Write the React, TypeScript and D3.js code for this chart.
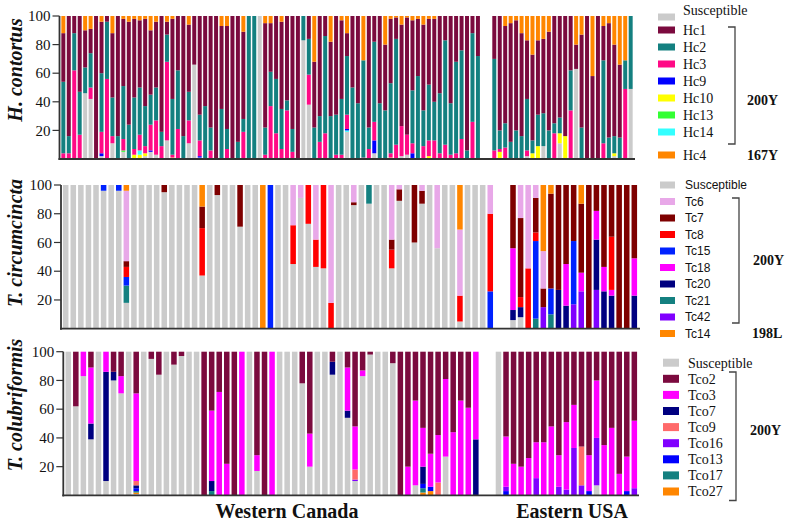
import React from "react";
import * as d3 from "d3";

type Row = Record<string, number>;

const SERIF = "'Liberation Serif', 'Times New Roman', serif";
const SANS = "'Liberation Sans', Arial, sans-serif";

const yTicks = [20, 40, 60, 80, 100];
const regions = ["Western Canada", "Eastern USA"];

// ---- H. contortus (isotype-1 beta-tubulin haplotypes) ----
const hcKeys = ["S", "Hc10", "Hc14", "Hc13", "Hc9", "Hc3", "Hc2", "Hc1", "Hc4"];
const hcLegend = ["S", "Hc1", "Hc2", "Hc3", "Hc9", "Hc10", "Hc13", "Hc14", "Hc4"];
const hcColors: Record<string, string> = {
  S: "#cbcbcb", Hc1: "#7b0a3e", Hc2: "#148080", Hc3: "#ff0a86", Hc9: "#0000ff",
  Hc10: "#ffff00", Hc13: "#33ff33", Hc14: "#33ffff", Hc4: "#ff8600",
};
const hcWest: Row[] = [
  { Hc3: 4, Hc2: 50, Hc1: 34, Hc4: 12 }, { Hc3: 4, Hc2: 12, Hc1: 84 }, { Hc3: 62, Hc2: 26, Hc1: 12 },
  { Hc3: 17, Hc2: 30, Hc1: 53 }, { S: 46, Hc2: 18, Hc1: 26, Hc4: 10 }, { S: 42, Hc3: 8, Hc2: 24, Hc1: 17, Hc4: 9 },
  { Hc1: 100 }, { S: 2, Hc9: 2, Hc3: 15, Hc2: 41, Hc1: 36, Hc4: 4 }, { Hc3: 56, Hc2: 40, Hc1: 4 },
  { S: 11, Hc3: 5, Hc2: 27, Hc1: 45, Hc4: 12 }, { Hc2: 16, Hc1: 84 }, { S: 5, Hc13: 1, Hc3: 8, Hc2: 37, Hc1: 47, Hc4: 2 },
  { Hc2: 24, Hc1: 72, Hc4: 4 }, { Hc10: 3, Hc3: 4, Hc2: 36, Hc1: 55, Hc4: 2 },
  { Hc10: 3, Hc14: 3, Hc3: 11, Hc2: 33, Hc1: 47, Hc4: 3 }, { S: 2, Hc10: 2, Hc3: 5, Hc2: 28, Hc1: 61, Hc4: 2 },
  { S: 5, Hc9: 1, Hc3: 18, Hc2: 21, Hc1: 45, Hc4: 10 }, { S: 3, Hc3: 24, Hc2: 23, Hc1: 46, Hc4: 4 },
  { Hc3: 9, Hc2: 10, Hc1: 81 }, { S: 13, Hc3: 55, Hc2: 19, Hc1: 9, Hc4: 4 },
  { Hc10: 1, Hc3: 2, Hc2: 39, Hc1: 56, Hc4: 2 }, { Hc3: 21, Hc2: 41, Hc1: 38 }, { Hc2: 16, Hc1: 84 },
  { S: 11, Hc3: 16, Hc2: 20, Hc1: 47, Hc4: 6 }, { S: 66, Hc1: 34 }, { S: 1, Hc9: 1, Hc3: 11, Hc2: 18, Hc1: 69 },
  { Hc2: 37, Hc1: 63 }, { Hc3: 6, Hc2: 16, Hc1: 78 }, { Hc1: 100 }, { Hc2: 35, Hc1: 58, Hc4: 7 },
  { Hc3: 7, Hc2: 14, Hc1: 72, Hc4: 7 }, { Hc1: 100 }, { Hc2: 12, Hc1: 88 }, { Hc3: 19, Hc2: 9, Hc1: 61, Hc4: 11 },
  { Hc2: 100 }, { Hc2: 100 }, { S: 100 }, { Hc3: 3, Hc2: 19, Hc1: 73, Hc4: 5 }, { Hc3: 37, Hc2: 24, Hc1: 34, Hc4: 5 },
  { Hc3: 18, Hc2: 38, Hc1: 44 }, { Hc3: 7, Hc2: 28, Hc1: 61, Hc4: 4 }, { Hc3: 34, Hc2: 7, Hc1: 59 },
  { Hc3: 5, Hc2: 16, Hc1: 79 }, { Hc1: 100 }, { S: 83, Hc2: 17 }, { S: 38, Hc3: 21, Hc2: 25, Hc1: 16 },
  { Hc2: 22, Hc1: 46, Hc4: 32 }, { Hc3: 12, Hc2: 18, Hc1: 70 }, { Hc3: 18, Hc2: 68, Hc1: 14 },
  { Hc2: 30, Hc1: 52, Hc4: 18 }, { Hc3: 3, Hc2: 28, Hc1: 69 }, { Hc3: 3, Hc2: 39, Hc1: 55, Hc4: 3 },
  { S: 19, Hc9: 1, Hc14: 1, Hc3: 10, Hc2: 41, Hc1: 16, Hc4: 12 }, { Hc2: 50, Hc1: 50 }, { Hc2: 39, Hc1: 61 },
  { Hc3: 1, Hc2: 68, Hc4: 31 }, { Hc3: 7, Hc2: 15, Hc1: 78 }, { S: 4, Hc9: 9, Hc3: 13, Hc2: 56, Hc1: 18 },
  { Hc2: 39, Hc1: 61 }, { Hc2: 34, Hc1: 46, Hc4: 20 }, { Hc10: 1, Hc3: 3, Hc2: 49, Hc1: 45, Hc4: 2 },
  { Hc3: 10, Hc2: 74, Hc1: 15, Hc4: 1 }, { S: 2, Hc3: 21, Hc1: 71, Hc4: 6 }, { S: 3, Hc3: 14, Hc1: 82, Hc4: 1 },
  { Hc9: 4, Hc3: 7, Hc2: 37, Hc1: 49, Hc4: 3 }, { Hc2: 58, Hc1: 40, Hc4: 2 }, { Hc3: 9, Hc2: 25, Hc1: 60, Hc4: 6 },
  { Hc10: 2, Hc3: 11, Hc2: 39, Hc1: 46, Hc4: 2 }, { Hc3: 13, Hc2: 27, Hc1: 58, Hc4: 2 }, { Hc3: 4, Hc2: 42, Hc1: 54 },
  { Hc3: 10, Hc2: 73, Hc1: 17 }, { Hc3: 3, Hc2: 36, Hc1: 61 }, { Hc3: 4, Hc2: 64, Hc1: 32 },
  { Hc3: 14, Hc2: 62, Hc1: 24 }, { Hc2: 6, Hc1: 94 }, { Hc3: 26, Hc2: 62, Hc1: 12 }, { Hc2: 72, Hc1: 28 },
];
const hcEast: Row[] = [
  { Hc3: 6, Hc2: 64, Hc1: 30 }, { Hc10: 5, Hc3: 2, Hc2: 13, Hc1: 80 }, { Hc3: 8, Hc2: 17, Hc1: 68, Hc4: 7 },
  { Hc2: 12, Hc1: 83, Hc4: 5 }, { Hc2: 20, Hc1: 77, Hc4: 3 }, { Hc2: 16, Hc1: 72, Hc4: 12 },
  { S: 2, Hc3: 4, Hc2: 36, Hc1: 41, Hc4: 17 }, { Hc10: 4, Hc2: 9, Hc1: 60, Hc4: 27 },
  { Hc10: 9, Hc2: 22, Hc1: 52, Hc4: 17 }, { S: 9, Hc2: 23, Hc1: 52, Hc4: 16 }, { Hc2: 20, Hc1: 69, Hc4: 11 },
  { Hc3: 18, Hc2: 7, Hc1: 75 }, { S: 11, Hc10: 7, Hc2: 11, Hc1: 71 }, { Hc10: 16, Hc1: 84 },
  { Hc3: 34, Hc2: 28, Hc1: 38 }, { S: 63, Hc1: 17, Hc4: 20 }, { Hc2: 22, Hc1: 65, Hc4: 13 }, { Hc1: 100 },
  { Hc1: 58, Hc4: 42 }, { Hc1: 100 }, { Hc3: 11, Hc2: 58, Hc1: 24, Hc4: 7 }, { Hc2: 15, Hc1: 80, Hc4: 5 },
  { S: 2, Hc10: 2, Hc2: 12, Hc1: 64, Hc4: 20 }, { Hc2: 15, Hc1: 51, Hc4: 34 }, { Hc3: 49, Hc2: 20, Hc4: 31 },
  { S: 49, Hc2: 51 },
];

// ---- T. circumcincta ----
const tcKeys = ["S", "Tc21", "Tc42", "Tc20", "Tc15", "Tc18", "Tc8", "Tc7", "Tc6", "Tc14"];
const tcLegend = ["S", "Tc6", "Tc7", "Tc8", "Tc15", "Tc18", "Tc20", "Tc21", "Tc42", "Tc14"];
const tcColors: Record<string, string> = {
  S: "#cbcbcb", Tc6: "#e8a8e8", Tc7: "#7e0000", Tc8: "#ff0000", Tc15: "#0022ff", Tc18: "#ff00ff",
  Tc20: "#000080", Tc21: "#148080", Tc42: "#8000ff", Tc14: "#ff8600",
};
const tcWest: Row[] = [
  { S: 100 }, { S: 100 }, { S: 100 }, { S: 100 }, { S: 100 }, { S: 96, Tc15: 4 }, { S: 100 }, { S: 96, Tc15: 4 },
  { S: 18, Tc21: 12, Tc15: 6, Tc8: 7, Tc7: 4, Tc6: 49, Tc14: 4 }, { S: 100 }, { S: 100 }, { S: 100 }, { S: 100 },
  { S: 95, Tc7: 5 }, { S: 100 }, { S: 100 }, { S: 100 }, { S: 100 }, { S: 37, Tc8: 33, Tc7: 15, Tc14: 15 },
  { S: 100 }, { S: 93, Tc7: 7 }, { S: 100 }, { S: 100 }, { S: 71, Tc7: 29 }, { S: 100 }, { S: 100 },
  { Tc14: 100 }, { Tc15: 100 }, { S: 100 }, { S: 100 }, { S: 45, Tc8: 27, Tc6: 28 }, { S: 91, Tc6: 9 },
  { S: 73, Tc8: 27 }, { S: 43, Tc8: 19, Tc6: 38 }, { S: 42, Tc8: 58 }, { Tc8: 18, Tc6: 82 }, { S: 100 },
  { S: 100 }, { S: 86, Tc7: 2, Tc6: 12 }, { S: 100 }, { S: 87, Tc21: 13 }, { S: 100 }, { S: 100 },
  { S: 42, Tc8: 13, Tc7: 7, Tc6: 38 }, { S: 89, Tc7: 8, Tc6: 3 }, { S: 100 }, { S: 60, Tc7: 40 },
  { S: 87, Tc7: 9, Tc6: 4 }, { S: 100 }, { S: 56, Tc6: 44 }, { S: 100 }, { S: 100 },
  { S: 5, Tc8: 18, Tc6: 46, Tc14: 31 }, { S: 100 }, { S: 100 }, { S: 100 }, { Tc15: 26, Tc8: 54, Tc6: 20 },
];
const tcEast: Row[] = [
  { S: 6, Tc20: 7, Tc18: 43, Tc7: 44 }, { S: 8, Tc20: 7, Tc8: 7, Tc7: 55, Tc6: 23 }, { Tc8: 42, Tc6: 58 },
  { Tc21: 7, Tc15: 54, Tc8: 6, Tc7: 24, Tc6: 9 }, { Tc42: 15, Tc7: 13, Tc6: 26, Tc14: 46 },
  { Tc21: 10, Tc15: 18, Tc7: 66, Tc14: 6 }, { Tc20: 27, Tc7: 73 }, { Tc20: 16, Tc18: 29, Tc7: 55 },
  { Tc42: 17, Tc15: 44, Tc7: 39 }, { Tc42: 26, Tc18: 13, Tc7: 48, Tc14: 13 }, { Tc7: 100 },
  { Tc42: 27, Tc20: 35, Tc18: 20, Tc7: 18 }, { Tc20: 26, Tc18: 17, Tc7: 57 },
  { Tc20: 23, Tc18: 4, Tc8: 37, Tc7: 36 }, { Tc7: 100 }, { Tc7: 100 }, { Tc20: 23, Tc18: 26, Tc7: 51 },
];

// ---- T. colubriformis ----
const tcoKeys = ["S", "Tco27", "Tco17", "Tco13", "Tco16", "Tco7", "Tco9", "Tco3", "Tco2"];
const tcoLegend = ["S", "Tco2", "Tco3", "Tco7", "Tco9", "Tco16", "Tco13", "Tco17", "Tco27"];
const tcoColors: Record<string, string> = {
  S: "#cbcbcb", Tco2: "#7b0a3e", Tco3: "#ff00ff", Tco7: "#000080", Tco9: "#ff6a6a", Tco16: "#8000ff",
  Tco13: "#0000ff", Tco17: "#148080", Tco27: "#ff8600",
};
const tcoWest: Row[] = [
  { S: 100 }, { S: 62, Tco2: 38 }, { S: 83, Tco3: 17 }, { S: 39, Tco7: 11, Tco3: 39, Tco2: 11 }, { S: 100 },
  { S: 10, Tco7: 76, Tco3: 14 }, { S: 80, Tco7: 6, Tco2: 14 }, { S: 71, Tco3: 12, Tco2: 17 }, { S: 100 },
  { S: 1, Tco27: 1, Tco17: 1, Tco13: 2, Tco7: 2, Tco9: 3, Tco3: 61, Tco2: 29 }, { S: 100 }, { S: 95, Tco2: 5 },
  { S: 84, Tco2: 16 }, { S: 100 }, { S: 91, Tco2: 9 }, { S: 97, Tco2: 3 }, { S: 100 }, { S: 100 },
  { Tco2: 100 }, { Tco17: 3, Tco7: 7, Tco3: 49, Tco2: 41 }, { Tco3: 72, Tco2: 28 }, { Tco3: 22, Tco2: 78 },
  { Tco2: 100 }, { Tco3: 100 }, { S: 100 }, { S: 17, Tco3: 11, Tco2: 72 }, { Tco2: 100 }, { Tco3: 100 },
  { S: 100 }, { S: 100 }, { S: 100 }, { S: 78, Tco2: 22 }, { S: 20, Tco3: 23, Tco2: 57 }, { S: 100 },
  { S: 100 }, { S: 84, Tco7: 9, Tco2: 7 }, { S: 100 }, { S: 54, Tco7: 5, Tco3: 30, Tco2: 11 },
  { S: 10, Tco16: 1, Tco9: 7, Tco3: 30, Tco2: 52 }, { S: 83, Tco3: 4, Tco2: 13 }, { S: 98, Tco2: 2 },
  { S: 100 }, { S: 100 }, { S: 92, Tco2: 8 }, { Tco2: 100 }, { Tco3: 20, Tco2: 80 },
  { S: 7, Tco3: 59, Tco2: 34 }, { Tco27: 2, Tco17: 3, Tco13: 3, Tco7: 12, Tco3: 27, Tco2: 53 },
  { Tco27: 3, Tco13: 3, Tco3: 23, Tco2: 71 }, { Tco9: 9, Tco3: 33, Tco2: 58 }, { S: 27, Tco3: 54, Tco2: 19 },
  { Tco3: 44, Tco2: 56 }, { Tco3: 66, Tco2: 34 }, { Tco3: 61, Tco2: 39 }, { Tco7: 39, Tco3: 61 },
];
const tcoEast: Row[] = [
  { S: 100 }, { Tco16: 3, Tco13: 3, Tco3: 35, Tco2: 59 }, { Tco3: 22, Tco2: 78 }, { Tco3: 20, Tco2: 80 },
  { Tco3: 26, Tco2: 74 }, { Tco16: 12, Tco3: 25, Tco2: 63 }, { Tco3: 37, Tco2: 63 }, { Tco3: 48, Tco2: 52 },
  { Tco16: 6, Tco3: 22, Tco2: 72 }, { Tco16: 4, Tco3: 47, Tco2: 49 }, { Tco16: 33, Tco3: 30, Tco2: 37 },
  { Tco16: 7, Tco9: 27, Tco2: 66 }, { Tco13: 3, Tco3: 25, Tco2: 72 }, { S: 7, Tco16: 33, Tco3: 40, Tco2: 20 },
  { Tco3: 35, Tco2: 65 }, { Tco3: 47, Tco2: 53 }, { Tco3: 15, Tco2: 85 }, { Tco13: 3, Tco3: 24, Tco2: 73 },
  { Tco16: 5, Tco3: 47, Tco2: 48 },
];

interface PanelProps {
  title: string;
  titleY: number;
  keys: string[];
  legendKeys: string[];
  colors: Record<string, string>;
  west: Row[];
  east: Row[];
  xRange: [number, number];
  yRange: [number, number];
  axisX: number;
  axisEnd: number;
  legend: { swX: number; swW: number; swH: number; textX: number; font: string; size: number; rowY: (i: number) => number; suscDy?: number };
  bracket: { x: number; y0: number; y1: number };
  notes: { text: string; x: number; y: number }[];
}

function Panel(p: PanelProps) {
  // two empty slots separate the two regions
  const slots = [
    ...p.west.map((_, i) => `w${i}`),
    "gap0",
    "gap1",
    ...p.east.map((_, i) => `e${i}`),
  ];
  const rows = [...p.west, ...p.east];
  const slotOf = (i: number) => (i < p.west.length ? `w${i}` : `e${i - p.west.length}`);

  const x = d3.scaleBand<string>().domain(slots).range(p.xRange).paddingInner(0.27).paddingOuter(0.135);
  const y = d3.scaleLinear().domain([0, 100]).range(p.yRange);

  const series = d3
    .stack<Row>()
    .keys(p.keys)
    .value((d, k) => d[k] ?? 0)(rows);

  const [yBottom, yTop] = p.yRange;

  return (
    <g>
      {series.map((s) => (
        <g key={s.key} fill={p.colors[s.key]}>
          {s.map((d, i) =>
            d[1] > d[0] ? (
              <rect
                key={i}
                x={x(slotOf(i))}
                width={x.bandwidth()}
                y={y(d[1])}
                height={y(d[0]) - y(d[1])}
              />
            ) : null
          )}
        </g>
      ))}

      {/* axes */}
      <line x1={p.axisX} x2={p.axisX} y1={yTop} y2={yBottom + 1} stroke="#333" strokeWidth={1.8} />
      <line x1={p.axisX - 1} x2={p.axisEnd} y1={yBottom} y2={yBottom} stroke="#333" strokeWidth={1.8} />
      {yTicks.map((t) => (
        <g key={t} transform={`translate(${p.axisX},${y(t)})`}>
          <line x1={-7} x2={0} stroke="#333" strokeWidth={1.2} />
          <text x={-9} dy="0.34em" textAnchor="end" fontFamily={SERIF} fontSize={15} fill="#111">
            {t}
          </text>
        </g>
      ))}
      <text
        transform={`translate(22,${p.titleY}) rotate(-90)`}
        textAnchor="middle"
        fontFamily={SERIF}
        fontSize={20}
        fontWeight="bold"
        fontStyle="italic"
        fill="#111"
      >
        {p.title}
      </text>

      {/* legend */}
      {p.legendKeys.map((k, i) => {
        const cy = p.legend.rowY(i);
        const ty = k === "S" && p.legend.suscDy ? cy + p.legend.suscDy : cy;
        return (
          <g key={k}>
            <rect x={p.legend.swX} y={cy - p.legend.swH / 2} width={p.legend.swW} height={p.legend.swH} fill={p.colors[k]} />
            <text x={p.legend.textX} y={ty} dy="0.35em" fontFamily={p.legend.font} fontSize={p.legend.size} fill="#111">
              {k === "S" ? "Susceptible" : k}
            </text>
          </g>
        );
      })}
      <path
        d={`M${p.bracket.x - 7},${p.bracket.y0}H${p.bracket.x}V${p.bracket.y1}H${p.bracket.x - 7}`}
        fill="none"
        stroke="#444"
        strokeWidth={1.3}
      />
      {p.notes.map((n) => (
        <text key={n.text + n.y} x={n.x} y={n.y} dy="0.35em" fontFamily={SERIF} fontSize={14} fontWeight="bold" fill="#111">
          {n.text}
        </text>
      ))}
    </g>
  );
}

export default function App() {
  return (
    <svg width={789} height={522} style={{ position: "absolute", left: 0, top: 0, background: "#fff" }}>
      <Panel
        title="H. contortus"
        titleY={70}
        keys={hcKeys}
        legendKeys={hcLegend}
        colors={hcColors}
        west={hcWest}
        east={hcEast}
        xRange={[60.6, 633.4]}
        yRange={[159, 16]}
        axisX={59.5}
        axisEnd={635}
        legend={{
          swX: 658, swW: 17, swH: 7, textX: 683, font: SERIF, size: 14, suscDy: -7,
          rowY: (i) => (i === 0 ? 17 : 30 + (i - 1) * 17 + (i === 8 ? 6 : 0)),
        }}
        bracket={{ x: 735, y0: 27, y1: 144 }}
        notes={[
          { text: "200Y", x: 747, y: 100 },
          { text: "167Y", x: 747, y: 155 },
        ]}
      />
      <Panel
        title="T. circumcincta"
        titleY={243}
        keys={tcKeys}
        legendKeys={tcLegend}
        colors={tcColors}
        west={tcWest}
        east={tcEast}
        xRange={[61.9, 638.1]}
        yRange={[328.7, 185]}
        axisX={61}
        axisEnd={640}
        legend={{ swX: 660, swW: 15, swH: 7, textX: 685, font: SANS, size: 12, rowY: (i) => 185 + i * 16.5 }}
        bracket={{ x: 739, y0: 198, y1: 323 }}
        notes={[
          { text: "200Y", x: 753, y: 260 },
          { text: "198L", x: 752, y: 333 },
        ]}
      />
      <Panel
        title="T. colubriformis"
        titleY={405}
        keys={tcoKeys}
        legendKeys={tcoLegend}
        colors={tcoColors}
        west={tcoWest}
        east={tcoEast}
        xRange={[64.5, 638.1]}
        yRange={[495.4, 351.7]}
        axisX={63.3}
        axisEnd={639}
        legend={{ swX: 663, swW: 16, swH: 8, textX: 688, font: SERIF, size: 14, rowY: (i) => 362.7 + i * 16.1 }}
        bracket={{ x: 736, y0: 372, y1: 500.5 }}
        notes={[{ text: "200Y", x: 750, y: 430 }]}
      />
      <text x={287} y={518} textAnchor="middle" fontFamily={SERIF} fontSize={20} fontWeight="bold" fill="#111">
        {regions[0]}
      </text>
      <text x={572} y={518} textAnchor="middle" fontFamily={SERIF} fontSize={20} fontWeight="bold" fill="#111">
        {regions[1]}
      </text>
    </svg>
  );
}
